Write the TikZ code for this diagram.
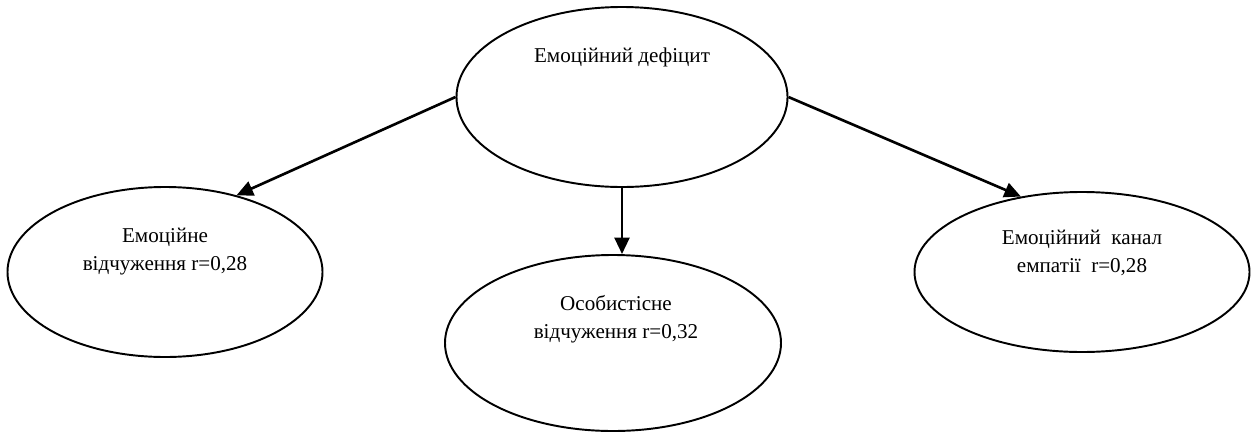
\documentclass[tikz,border=0pt]{standalone}
\usepackage{fontspec}
\setmainfont{Liberation Serif}
\usetikzlibrary{shapes.geometric,arrows.meta}
\begin{document}
\begin{tikzpicture}[x=0.2mm,y=-0.2mm,
	oval/.style={draw,ellipse,line width=1.1pt,inner sep=0pt},
	txt/.style={align=center,anchor=base,font=\fontsize{12}{15.5}\selectfont},
	arr/.style={-{Triangle[length=3.3mm,width=3mm]},line width=1.5pt}]
	\useasboundingbox (0,0) rectangle (1256,432);
	\node[oval,minimum width=66.2mm,minimum height=36mm] (D) at (622,97) {};
	\node[oval,minimum width=63mm,minimum height=34mm] (L) at (165,272) {};
	\node[oval,minimum width=67.2mm,minimum height=35.2mm] (M) at (613,343) {};
	\node[oval,minimum width=67mm,minimum height=32mm] (R) at (1082,272) {};

	\node[txt] (tD) at (622,62) {Емоційний дефіцит};
	\node[txt] (tL) at (165,270) {Емоційне\\відчуження r=0,28};
	\node[txt] (tM) at (616,338) {Особистісне\\відчуження r=0,32};
	\node[txt] (tR) at (1082,272) {Емоційний~ канал\\емпатії~ r=0,28};

	\draw[arr] (D.west) -- (L.47);
	\draw[arr] (D.south) -- (D.south |- M.north);
	\draw[arr] (D.east) -- (R.129);
\end{tikzpicture}
\end{document}
